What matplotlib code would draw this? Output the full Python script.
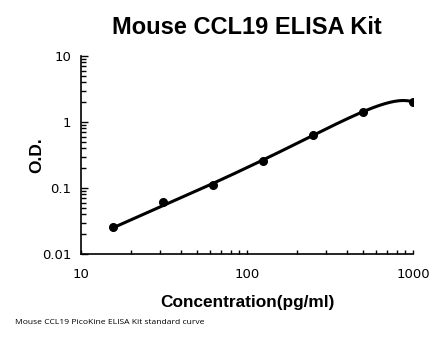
import matplotlib
matplotlib.use("Agg")
import matplotlib.pyplot as plt
import numpy as np
from matplotlib.ticker import LogLocator, NullFormatter, FixedLocator, FixedFormatter

# standard curve points
conc = [15.625, 31.25, 62.5, 125, 250, 500, 1000]
od = [0.026, 0.061, 0.111, 0.259, 0.635, 1.43, 2.01]

x_ticks = [10, 100, 1000]
x_tick_labels = ["10", "100", "1000"]
y_ticks = [0.01, 0.1, 1, 10]
y_tick_labels = ["0.01", "0.1", "1", "10"]

fig = plt.figure(figsize=(4.46, 3.56), dpi=100)
ax = fig.add_axes([81 / 446, 1 - 254 / 356, (413 - 81) / 446, (254 - 56) / 356])

# polynomial trendline fitted on linear values
coef = np.polyfit(conc, od, 3)
xs = np.logspace(np.log10(conc[0]), np.log10(conc[-1]), 300)
ax.plot(xs, np.polyval(coef, xs), color="black", lw=2.2, zorder=2)
ax.plot(conc, od, "o", color="black", ms=5.5, zorder=3)

ax.set_xscale("log")
ax.set_yscale("log")
ax.set_xlim(10, 1000)
ax.set_ylim(0.01, 10)

ax.xaxis.set_major_locator(FixedLocator(x_ticks))
ax.xaxis.set_major_formatter(FixedFormatter(x_tick_labels))
ax.yaxis.set_major_locator(FixedLocator(y_ticks))
ax.yaxis.set_major_formatter(FixedFormatter(y_tick_labels))
ax.xaxis.set_minor_locator(LogLocator(base=10, subs=np.arange(2, 10)))
ax.yaxis.set_minor_locator(LogLocator(base=10, subs=np.arange(2, 10)))
ax.xaxis.set_minor_formatter(NullFormatter())
ax.yaxis.set_minor_formatter(NullFormatter())

ax.tick_params(which="both", direction="in", width=1, colors="black",
               labelsize=9.5)
ax.tick_params(axis="y", which="major", length=5, pad=7)
ax.tick_params(axis="y", which="minor", length=3.5)
ax.tick_params(axis="x", which="major", length=3, pad=10)
ax.tick_params(axis="x", which="minor", length=3)
for lab in ax.get_xticklabels() + ax.get_yticklabels():
    lab.set_family("DejaVu Sans")

for side in ["top", "right"]:
    ax.spines[side].set_visible(False)
for side in ["left", "bottom"]:
    ax.spines[side].set_linewidth(1.2)

fig.text(247 / 446, 1 - 28 / 356, "Mouse CCL19 ELISA Kit", ha="center", va="center",
         fontsize=17, fontweight="bold", family="Liberation Sans")
fig.text(247 / 446, 1 - 302 / 356, "Concentration(pg/ml)", ha="center", va="center",
         fontsize=12.4, fontweight="bold", family="Liberation Sans")
fig.text(37 / 446, 1 - 155 / 356, "O.D.", ha="center", va="center", rotation=90,
         fontsize=12.5, fontweight="bold", family="Liberation Sans")
fig.text(15 / 446, 1 - 323 / 356, "Mouse CCL19 PicoKine ELISA Kit standard curve",
         ha="left", va="center", fontsize=6.1, family="Open Sans")

fig.savefig("out.png", dpi=100)
